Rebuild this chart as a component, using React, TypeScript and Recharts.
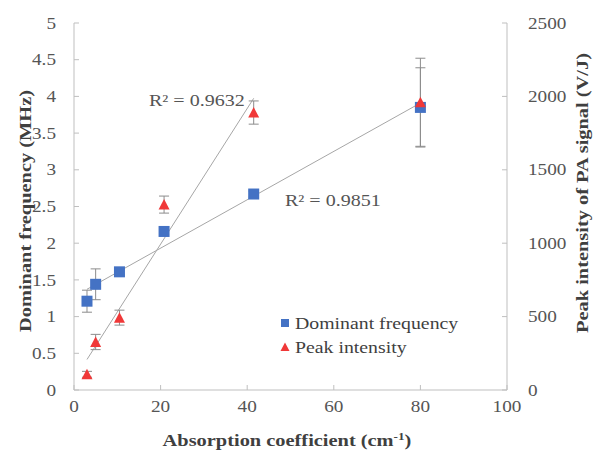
import React from 'react';
import {
  ScatterChart,
  Scatter,
  XAxis,
  YAxis,
  ErrorBar,
  ReferenceLine,
} from 'recharts';

// absorption coefficient (cm-1), shared by both series
const ABSORPTION = [3, 5, 10.5, 20.8, 41.5, 80];
const FREQ_MHZ = [1.21, 1.44, 1.61, 2.16, 2.67, 3.85];
const FREQ_ERR = [0.15, 0.21, 0.04, 0.04, 0.04, 0.54];
const PEAK_VJ = [107, 327, 493, 1263, 1890, 1960];
const PEAK_ERR = [20, 52, 51, 58, 79, 300];
// the intensity trendline only covers the first five samples
const PEAK_FIT_COUNT = 5;

const X_TICKS = [0, 20, 40, 60, 80, 100];
const FREQ_TICKS = [0, 0.5, 1, 1.5, 2, 2.5, 3, 3.5, 4, 4.5, 5];
const PEAK_TICKS = [0, 500, 1000, 1500, 2000, 2500];

const R2_FREQ = 'R\u00b2 = 0.9851';
const R2_PEAK = 'R\u00b2 = 0.9632';

const BLUE = '#4472c4';
const RED = '#f03838';
const AXIS = '#bfbfbf';
const TREND = '#a6a6a6';
const ERR = '#8c8c8c';
const TICK_TEXT = '#555555';
const TITLE_TEXT = '#3f3f3f';
const FONT = '"Liberation Serif", "DejaVu Serif", serif';
// the serif text is set a little wide
const STRETCH = 1.2;

const W = 594;
const H = 451;
const LEFT_W = 74;
const RIGHT_W = 87;
const TOP = 23;
const BOTTOM_H = 61;
const GAP_Y = 18;
const GAP_X = 16;
const GAP_R = 21;
const TICK_LEN = 5;

const freqData = ABSORPTION.map((x, i) => ({ x, y: FREQ_MHZ[i], err: FREQ_ERR[i] }));
const peakData = ABSORPTION.map((x, i) => ({ x, y: PEAK_VJ[i], err: PEAK_ERR[i] }));

// least-squares line between the smallest and largest x
const linearFit = (xs: number[], ys: number[]) => {
  const n = xs.length;
  const mx = xs.reduce((a, b) => a + b, 0) / n;
  const my = ys.reduce((a, b) => a + b, 0) / n;
  let sxy = 0;
  let sxx = 0;
  xs.forEach((x, i) => {
    sxy += (x - mx) * (ys[i] - my);
    sxx += (x - mx) * (x - mx);
  });
  const slope = sxy / sxx;
  const intercept = my - slope * mx;
  const x0 = Math.min(...xs);
  const x1 = Math.max(...xs);
  return [
    { x: x0, y: intercept + slope * x0 },
    { x: x1, y: intercept + slope * x1 },
  ];
};

const freqTrend = linearFit(ABSORPTION, FREQ_MHZ);
const peakTrend = linearFit(
  ABSORPTION.slice(0, PEAK_FIT_COUNT),
  PEAK_VJ.slice(0, PEAK_FIT_COUNT),
);

const Square = ({ cx, cy }: any) => (
  <rect x={cx - 5.5} y={cy - 5.5} width={11} height={11} fill={BLUE} />
);

const Triangle = ({ cx, cy }: any) => (
  <path
    d={`M${cx},${cy - 5.5} L${cx + 5.5},${cy + 5} L${cx - 5.5},${cy + 5} Z`}
    fill={RED}
  />
);

const StretchText = ({ x, y, rotate = 0, anchor = 'start', size, weight, fill, dy, children }: any) => (
  <text
    transform={`translate(${x},${y}) rotate(${rotate}) scale(${STRETCH},1)`}
    textAnchor={anchor}
    fill={fill}
    dy={dy}
    style={{ fontFamily: FONT, fontSize: size, fontWeight: weight ?? 'normal' }}
  >
    {children}
  </text>
);

const LeftTick = ({ x, y, payload }: any) => (
  <g>
    <line x1={x + GAP_Y} x2={x + GAP_Y + TICK_LEN} y1={y} y2={y} stroke={AXIS} />
    <StretchText x={x} y={y} anchor="end" size={16} fill={TICK_TEXT} dy="0.35em">
      {payload.value}
    </StretchText>
  </g>
);

const RightTick = ({ x, y, payload }: any) => (
  <g>
    <line x1={x - GAP_R} x2={x - GAP_R - TICK_LEN} y1={y} y2={y} stroke={AXIS} />
    <StretchText x={x} y={y} anchor="start" size={16} fill={TICK_TEXT} dy="0.35em">
      {payload.value}
    </StretchText>
  </g>
);

const BottomTick = ({ x, y, payload }: any) => (
  <g>
    <line x1={x} x2={x} y1={y - GAP_X} y2={y - GAP_X - TICK_LEN} stroke={AXIS} />
    <StretchText x={x} y={y} anchor="middle" size={16} fill={TICK_TEXT} dy="0.35em">
      {payload.value}
    </StretchText>
  </g>
);

const legendItems = [
  { name: 'Dominant frequency', color: BLUE, marker: 'square' },
  { name: 'Peak intensity', color: RED, marker: 'triangle' },
];

const ChartLegend = () => (
  <g>
    {legendItems.map((item, i) => {
      const cy = 323 + i * 24;
      return (
        <g key={item.name}>
          {item.marker === 'square' ? (
            <rect x={281} y={cy - 4} width={8} height={8} fill={item.color} />
          ) : (
            <path d={`M285,${cy - 4.5} L289.5,${cy + 4} L280.5,${cy + 4} Z`} fill={item.color} />
          )}
          <StretchText x={295} y={cy} size={16.5} fill={TITLE_TEXT} dy="0.35em">
            {item.name}
          </StretchText>
        </g>
      );
    })}
  </g>
);

export default function App() {
  return (
    <div style={{ position: 'absolute', left: 0, top: 0, width: W, height: H, background: '#fff', fontFamily: FONT }}>
      <ScatterChart
        width={W}
        height={H}
        margin={{ top: TOP, right: 0, bottom: 0, left: 0 }}
        style={{ fontFamily: FONT }}
      >
        <XAxis
          type="number"
          dataKey="x"
          domain={[0, 100]}
          ticks={X_TICKS}
          height={BOTTOM_H}
          tickSize={0}
          tickMargin={GAP_X}
          tick={<BottomTick />}
          axisLine={{ stroke: AXIS }}
          tickLine={false}
        />
        <YAxis
          yAxisId="freq"
          type="number"
          dataKey="y"
          domain={[0, 5]}
          ticks={FREQ_TICKS}
          width={LEFT_W}
          tickSize={0}
          tickMargin={GAP_Y}
          tick={<LeftTick />}
          axisLine={{ stroke: AXIS }}
          tickLine={false}
        />
        <YAxis
          yAxisId="peak"
          orientation="right"
          type="number"
          dataKey="y"
          domain={[0, 2500]}
          ticks={PEAK_TICKS}
          width={RIGHT_W}
          tickSize={0}
          tickMargin={GAP_R}
          tick={<RightTick />}
          axisLine={{ stroke: AXIS }}
          tickLine={false}
        />

        <ReferenceLine yAxisId="freq" segment={freqTrend} stroke={TREND} strokeWidth={1} />
        <ReferenceLine yAxisId="peak" segment={peakTrend} stroke={TREND} strokeWidth={1} />

        <Scatter
          name="Dominant frequency"
          yAxisId="freq"
          data={freqData}
          shape={<Square />}
          isAnimationActive={false}
        >
          <ErrorBar dataKey="err" direction="y" width={5} stroke={ERR} strokeWidth={1} />
        </Scatter>
        <Scatter
          name="Peak intensity"
          yAxisId="peak"
          data={peakData}
          shape={<Triangle />}
          isAnimationActive={false}
        >
          <ErrorBar dataKey="err" direction="y" width={5} stroke={ERR} strokeWidth={1} />
        </Scatter>

        <StretchText x={149} y={106} size={16.7} fill={TICK_TEXT}>{R2_PEAK}</StretchText>
        <StretchText x={285} y={206} size={16.7} fill={TICK_TEXT}>{R2_FREQ}</StretchText>

        <ChartLegend />

        <StretchText x={31} y={211} rotate={-90} anchor="middle" size={17} weight="bold" fill={TITLE_TEXT}>
          Dominant frequency (MHz)
        </StretchText>
        <StretchText x={588} y={193} rotate={-90} anchor="middle" size={17} weight="bold" fill={TITLE_TEXT}>
          Peak intensity of PA signal (V/J)
        </StretchText>
        <StretchText x={287} y={446} anchor="middle" size={17} weight="bold" fill={TITLE_TEXT}>
          Absorption coefficient (cm
          <tspan dy={-6} fontSize={11}>-1</tspan>
          <tspan dy={6}>)</tspan>
        </StretchText>
      </ScatterChart>
    </div>
  );
}
